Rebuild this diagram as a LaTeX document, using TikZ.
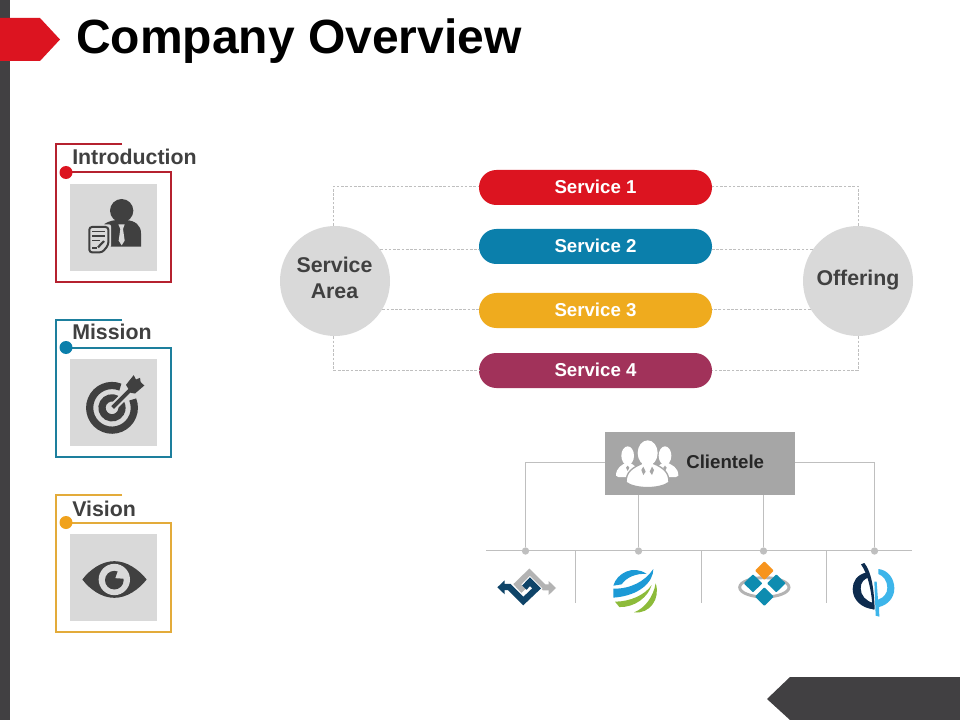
\documentclass[tikz,border=0pt]{standalone}
\usepackage{fontspec}
\setmainfont{Liberation Sans}
\definecolor{darkbar}{HTML}{414042}
\definecolor{redm}{HTML}{DC1420}
\definecolor{bluem}{HTML}{0B7FAB}
\definecolor{yelm}{HTML}{EFAB1E}
\definecolor{marm}{HTML}{A1325A}
\definecolor{redl}{HTML}{B5212F}
\definecolor{bluel}{HTML}{1D7F9D}
\definecolor{yell}{HTML}{E3AB3A}
\definecolor{panel}{HTML}{D9D9D9}
\definecolor{icon}{HTML}{404040}
\definecolor{conn}{HTML}{BFBFBF}
\definecolor{boxg}{HTML}{A6A6A6}
\definecolor{lnavy}{HTML}{0F4468}
\definecolor{lgray}{HTML}{B3B3B3}
\definecolor{lblue}{HTML}{1C9AD6}
\definecolor{lgreen}{HTML}{8DBB3A}
\definecolor{lteal}{HTML}{0E8CB0}
\definecolor{lorange}{HTML}{F7941D}
\definecolor{ldark}{HTML}{0D2B4E}
\definecolor{lsky}{HTML}{3DB5EA}
\tikzset{
  pill/.style={rounded corners=13pt,minimum width=174.75pt,minimum height=26.25pt,inner sep=0pt,
    text=white,font=\fontsize{14}{17}\selectfont\bfseries},
  bigcircle/.style={circle,fill=panel,minimum size=82.5pt,inner sep=0pt},
  biglabel/.style={inner sep=0pt,text=icon,align=center,font=\fontsize{16}{19.5}\selectfont\bfseries},
  dashline/.style={draw=conn,line width=0.6pt,dash pattern=on 2pt off 1.2pt},
  solidline/.style={draw=conn,line width=0.75pt},
  junction/.style={circle,fill=conn,minimum size=5.5pt,inner sep=0pt},
  cardlabel/.style={anchor=base west,inner sep=0pt,text=icon,font=\fontsize{16}{19}\selectfont\bfseries},
  panelbox/.style={fill=panel,draw=none,minimum width=65.25pt,minimum height=65.25pt,inner sep=0pt},
  carddot/.style={circle,minimum size=9.75pt,inner sep=0pt},
  zoomed/.style={x=0.25pt,y=-0.25pt},
}
% top y, line colour, dot colour, name
\newcommand{\cardshape}[4]{%
  \draw[#2,line width=1.5pt,line join=miter] (122,#1) -- (55.5,#1) -- (55.5,#1+137.5) -- (171,#1+137.5) -- (171,#1+28) -- (66,#1+28);
  \node[carddot,fill=#3] (#4dot) at (66,#1+28) {};
  \node[panelbox] (#4panel) at (113.5,#1+83) {};
}
\newcommand{\pilltext}[1]{\raisebox{1.5pt}{#1}}
\begin{document}
\begin{tikzpicture}[x=0.75pt,y=-0.75pt]
\useasboundingbox (0,0) rectangle (960,720);
\fill[white] (0,0) rectangle (960,720);
% frame decoration
\fill[darkbar] (0,0) rectangle (10,720);
\fill[redm] (0,18) -- (40,18) -- (60,39.5) -- (40,61) -- (0,61) -- cycle;
\fill[darkbar] (767,699) -- (790,677) -- (960,677) -- (960,720) -- (790,720) -- cycle;
\node[anchor=base west,inner sep=0pt,text=black,font=\fontsize{36}{40}\selectfont\bfseries] (title) at (76,54) {Company Overview};

% left cards
\cardshape{144.5}{redl}{redm}{intro}
\cardshape{319.5}{bluel}{bluem}{mission}
\cardshape{494.5}{yell}{yelm!95!red}{vision}
\node[cardlabel] (introlabel) at (72,164.5) {Introduction};
\node[cardlabel] (missionlabel) at (72,339.5) {Mission};
\node[cardlabel] (visionlabel) at (72,516.5) {Vision};

% person icon
\begin{scope}[shift={(40,130)},zoomed]
  \fill[icon] (245,242) circle[radius=35];
  \fill[icon] (193,350) -- (193,282) .. controls (208,272) and (225,270) .. (235,270) -- (258,270) .. controls (285,272) and (303,285) .. (303,310) -- (303,350) -- cycle;
  \fill[panel] (235,283) -- (254,283) -- (249,297) -- (254,332) -- (245,346) -- (236,332) -- (241,297) -- cycle;
  \filldraw[draw=panel,line width=3pt,fill=panel,line join=round] (146,289) -- (207,289) -- (207,347) -- (189,369) -- (146,369) -- cycle;
  \draw[icon,line width=1.5pt,rounded corners=2pt] (148,291) -- (205,291) -- (205,345) -- (187,367) -- (148,367) -- cycle;
  \draw[icon,line width=1.1pt] (157,305) -- (195,305) (157,318) -- (195,318) (157,331) -- (180,331) (157,354) -- (170,354);
  \draw[icon,line width=1.6pt] (174,352) -- (192,333);
\end{scope}

% target icon
\begin{scope}[shift={(40,309.5)},zoomed]
  \draw[icon,line width=5.4pt] (216,295) ++(-68:67) arc[start angle=-68,end angle=-382,radius=67];
  \draw[icon,line width=5.4pt] (216,295) ++(-60:30) arc[start angle=-60,end angle=-390,radius=30];
  \draw[panel,line width=6pt] (222,290) -- (275,237);
  \draw[icon,line width=3pt] (218,294) -- (278,234);
  \fill[icon] (258,226) -- (281,197) -- (288,210) -- (300,205) -- (302,218) -- (313,228) -- (285,252) -- (272,250) -- cycle;
\end{scope}

% eye icon
\begin{scope}[shift={(40,309.5)},zoomed]
  \fill[icon] (127,810) .. controls (150,780) and (185,755) .. (223,755) .. controls (261,755) and (296,780) .. (320,810) .. controls (296,840) and (261,865) .. (223,865) .. controls (185,865) and (150,840) .. (127,810) -- cycle;
  \fill[panel] (223,810) circle[radius=47];
  \fill[icon] (223,812) circle[radius=28];
  \fill[panel] (226,806) -- (236,778) -- (260,792) -- (256,808) -- cycle;
\end{scope}

% services
\node[pill,fill=redm] (s1) at (595.5,187.5) {\pilltext{Service 1}};
\node[pill,fill=bluem] (s2) at (595.5,246.5) {\pilltext{Service 2}};
\node[pill,fill=yelm] (s3) at (595.5,310.5) {\pilltext{Service 3}};
\node[pill,fill=marm] (s4) at (595.5,370.5) {\pilltext{Service 4}};
\node[bigcircle] (area) at (335,281) {};
\node[bigcircle] (offer) at (858,281) {};
\node[biglabel] (arealabel) at (334.5,278) {Service\\Area};
\node[biglabel] (offerlabel) at (858,280.5) {Offering};
\draw[dashline] ([xshift=-1pt]area.north) |- ([yshift=1pt]s1.west);
\draw[dashline] (offer.north) |- ([yshift=1pt]s1.east);
\draw[dashline] (area.35) -- (area.35 -| s2.west);
\draw[dashline] (offer.145) -- (offer.145 -| s2.east);
\draw[dashline] (area.-31) -- (area.-31 -| s3.west);
\draw[dashline] (offer.-149) -- (offer.-149 -| s3.east);
\draw[dashline] ([xshift=-1pt]area.south) |- (s4.west);
\draw[dashline] (offer.south) |- (s4.east);

% clientele
\node[fill=boxg,minimum width=142.5pt,minimum height=47.25pt,inner sep=0pt] (client) at (700,463.5) {};
\node[anchor=base west,inner sep=0pt,text=black!85,font=\fontsize{14}{17}\selectfont\bfseries] (clientlabel) at (686,468) {Clientele};
\coordinate (railL) at (486,550);
\coordinate (railR) at (912,550);
\draw[solidline] (railL) -- (railR);
\node[junction] (j1) at (525.5,551) {};
\node[junction] (j2) at (638.5,551) {};
\node[junction] (j3) at (763.5,551) {};
\node[junction] (j4) at (874.5,551) {};
\draw[solidline] ([yshift=1pt]client.west) -| (j1);
\draw[solidline] (client.south -| j2) -- (j2);
\draw[solidline] (client.south -| j3) -- (j3);
\draw[solidline] ([yshift=1pt]client.east) -| (j4);
\coordinate (t1a) at (575.5,550); \coordinate (t1b) at (575.5,603);
\coordinate (t2a) at (701.5,550); \coordinate (t2b) at (701.5,603);
\coordinate (t3a) at (826.5,550); \coordinate (t3b) at (826.5,603);
\draw[solidline] (t1a) -- (t1b);
\draw[solidline] (t2a) -- (t2b);
\draw[solidline] (t3a) -- (t3b);

\begin{scope}[shift={(480,425)},zoomed]
  % clientele people
  \fill[white] (443,92) ellipse[x radius=19,y radius=28];
  \fill[white] (555,92) ellipse[x radius=19,y radius=28];
  \fill[white] (408,152) .. controls (408,128) and (425,120) .. (443,110) .. controls (462,120) and (478,128) .. (480,152) -- (470,156) -- (415,156) -- cycle;
  \fill[white] (595,152) .. controls (595,128) and (578,120) .. (555,110) .. controls (538,120) and (522,128) .. (520,152) -- (530,156) -- (588,156) -- cycle;
  \draw[boxg,line width=1pt,fill=white] (438,172) .. controls (438,140) and (458,128) .. (485,116) -- (522,116) .. controls (548,128) and (567,140) .. (567,172) .. controls (540,193) and (465,193) .. (438,172) -- cycle;
  \fill[white] (503,84) ellipse[x radius=30,y radius=38];
  \fill[white] (487,105) rectangle (519,130);
  \fill[boxg] (490,125) -- (497,140) -- (490,150) -- (484,135) -- cycle;
  \fill[boxg] (516,125) -- (509,140) -- (516,150) -- (522,135) -- cycle;
  \fill[boxg] (443,122) -- (438,128) -- (443,138) -- (448,128) -- cycle;
  \fill[boxg] (555,122) -- (550,128) -- (555,138) -- (560,128) -- cycle;

  % logo 1
  \draw[lgray,line width=4.4pt,line join=miter] (130,498) -- (112,478) -- (148,443) -- (192,487) -- (208,487);
  \fill[lgray] (228,489) -- (206,468) -- (206,510) -- cycle;
  \draw[white,line width=6pt] (88,484) -- (130,528) -- (170,490) -- (150,470) -- (133,488);
  \draw[lnavy,line width=4.6pt,line join=miter] (72,486) -- (88,486) -- (130,528) -- (170,490) -- (150,470) -- (133,488);
  \fill[lnavy] (52,487) -- (74,466) -- (74,508) -- cycle;

  % logo 2
  \fill[lblue] (400,482) .. controls (410,445) and (460,418) .. (500,447) .. controls (468,444) and (438,458) .. (425,478) -- cycle;
  \fill[lblue] (400,491) .. controls (450,492) and (495,470) .. (520,432) .. controls (520,470) and (480,512) .. (400,518) -- cycle;
  \fill[lgreen] (405,530) .. controls (450,530) and (495,510) .. (515,480) .. controls (505,515) and (465,548) .. (418,546) -- cycle;
  \fill[lgreen] (462,562) .. controls (495,550) and (520,515) .. (527,475) .. controls (542,520) and (510,568) .. (462,562) -- cycle;

  % logo 3
  \draw[lgray,line width=2.2pt] (853,487) ellipse[x radius=74,y radius=29];
  \fill[lorange,rounded corners=0.6pt] (853,409) -- (881,437) -- (853,465) -- (825,437) -- cycle;
  \fill[lteal,rounded corners=0.6pt] (819,448) -- (847,475) -- (819,502) -- (791,475) -- cycle;
  \fill[lteal,rounded corners=0.6pt] (889,448) -- (917,475) -- (889,502) -- (861,475) -- cycle;
  \fill[lteal,rounded corners=0.6pt] (853,487) -- (881,515) -- (853,543) -- (825,515) -- cycle;

  % logo 4
  \fill[lsky] (1195,432) .. controls (1225,435) and (1243,462) .. (1243,490) .. controls (1243,520) and (1222,540) .. (1197,546) -- (1198,575) -- (1187,572) -- (1183,470) -- (1190,470) -- (1194,524) .. controls (1212,518) and (1222,505) .. (1222,488) .. controls (1222,468) and (1210,452) .. (1195,447) -- cycle;
  \fill[ldark] (1157,443) .. controls (1130,450) and (1118,470) .. (1118,492) .. controls (1118,525) and (1145,550) .. (1182,553) -- (1180,534) .. controls (1158,528) and (1142,512) .. (1142,490) .. controls (1142,472) and (1152,462) .. (1166,457) -- cycle;
  \fill[ldark] (1143,418) -- (1153,414) .. controls (1174,440) and (1182,490) .. (1184,553) -- (1178,553) .. controls (1175,500) and (1165,450) .. (1143,418) -- cycle;
\end{scope}
\end{tikzpicture}
\end{document}
